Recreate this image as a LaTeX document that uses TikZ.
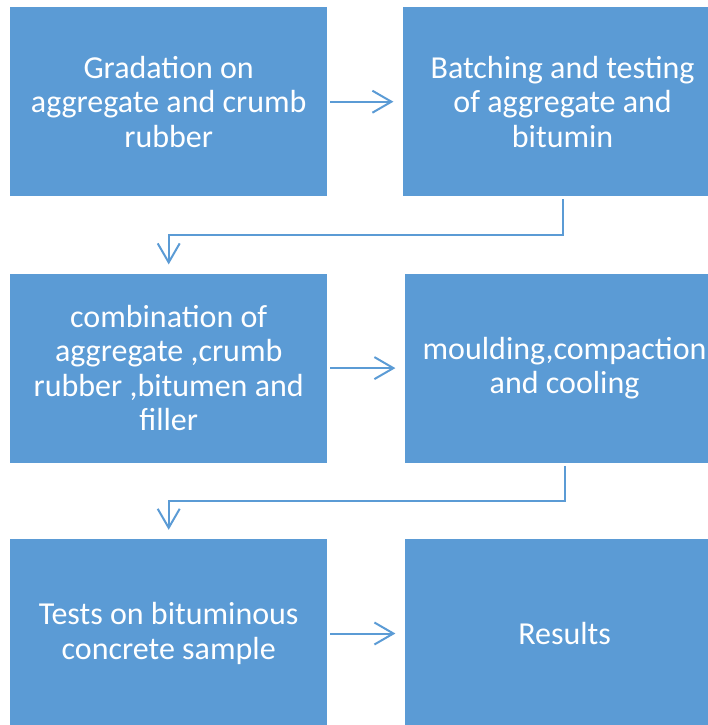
\documentclass[tikz,border=0pt]{standalone}
\usepackage{fontspec}
\setmainfont{Carlito}
\usetikzlibrary{positioning,arrows.meta,calc}
\definecolor{stepblue}{HTML}{5B9BD5}

\tikzstyle{stage} = [rectangle, minimum width=317pt, minimum height=189pt, text centered, align=center, fill=stepblue, text=white, inner sep=0pt, font=\fontsize{32}{34.5}\selectfont]
\tikzstyle{wide} = [minimum width=320pt]
\tikzstyle{flow} = [-{Straight Barb[length=19pt,width=22pt]}, line width=2pt, draw=stepblue, shorten <=3pt, shorten >=9pt]

\begin{document}
\begin{tikzpicture}[x=1pt,y=1pt]
\useasboundingbox (0,0) rectangle (707,-725);
%Stages
\node (S1) [stage,anchor=north west] at (10,-7) {Gradation on\\aggregate and crumb\\rubber};
\node (S2) [stage,wide,right=75pt of S1] {Batching and testing\\of aggregate and\\bitumin};
\node (S3) [stage,below=77pt of S1] {combination of\\aggregate ,crumb\\rubber ,bitumen and\\filler};
\node (S4) [stage,wide,right=77pt of S3] {moulding,compaction\\and cooling};
\node (S5) [stage,below=76pt of S3] {Tests on bituminous\\concrete sample};
\node (S6) [stage,wide,right=77pt of S5] {Results};

%Arrows
\draw [flow] (S1.east) -- (S2.west);
\draw [flow] (S3.east) -- (S4.west);
\draw [flow] (S5.east) -- (S6.west);
\draw [flow] (S2.south) |- ($(S2.south)!0.5!(S3.north)$) -| (S3.north);
\draw [flow] (S4.south) |- ($(S4.south)!0.5!(S5.north)$) -| (S5.north);

\end{tikzpicture}
\end{document}
